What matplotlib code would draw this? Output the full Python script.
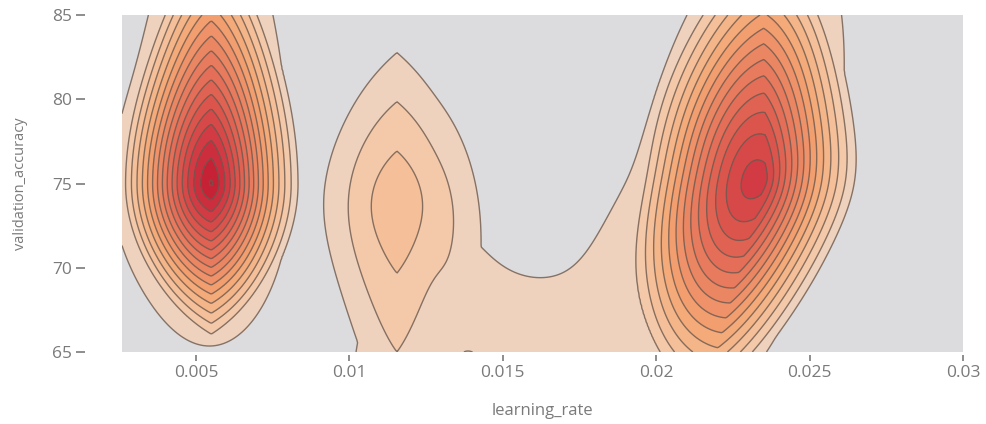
"""2D density contour of validation accuracy against learning rate."""

import numpy as np
import matplotlib
matplotlib.use("Agg")
import matplotlib.pyplot as plt
from matplotlib.colors import LinearSegmentedColormap

# pointed cores of the three clusters (height in contour steps, reach on each side)
core_lr = [0.0055, 0.01155, 0.0235]
core_acc = [75.0, 73.8, 75.2]
core_height = [10.0, 3.05, 8.5]
core_left = [0.0029, 0.0029, 0.0040]
core_right = [0.0029, 0.0029, 0.0032]
core_up = [15.0, 11.5, 15.0]
core_down = [9.6, 11.0, 14.0]
core_lean = [0.0, 0.0, 0.00015]

# rounded mass round the cores, plus the low-accuracy bridge
blob_lr = [0.0055, 0.0042, 0.01155, 0.01155, 0.0226, 0.0210, 0.0161]
blob_acc = [75.0, 75.0, 73.8, 60.0, 75.0, 67.0, 50.0]
blob_left = [0.0013, 0.0015, 0.0017, 0.0016, 0.0017, 0.0015, 0.0028]
blob_right = [0.0013, 0.0015, 0.0017, 0.0016, 0.0016, 0.0015, 0.0028]
blob_up = [9.0, 4.0, 6.5, 6.0, 8.0, 4.0, 12.0]
blob_down = [5.0, 4.0, 10.0, 6.0, 6.0, 4.0, 12.0]
blob_weight = [6.0, 1.7, 0.85, 1.15, 7.0, 1.0, 3.55]
blob_flatness = [2, 2, 2, 2, 2, 2, 8]
blob_lean = [0.0, 0.0, 0.0, 0.0, 0.0001, 0.0, 0.0]

x_ticks = [0.005, 0.01, 0.015, 0.02, 0.025, 0.03]
x_tick_labels = ["0.005", "0.01", "0.015", "0.02", "0.025", "0.03"]
y_ticks = [65, 70, 75, 80, 85]

X_RANGE = (0.00259, 0.03)
Y_RANGE = (65, 85)


def density(xx, yy):
    z = np.zeros_like(xx)
    for cx, cy, h, sl, sr, su, sd, k in zip(core_lr, core_acc, core_height,
                                            core_left, core_right, core_up,
                                            core_down, core_lean):
        dy = yy - cy
        dx = xx - cx - k * dy * 0.5 * (1 - np.tanh(dy / 3))
        u = np.where(dx < 0, dx / sl, dx / sr)
        v = np.where(dy > 0, dy / su, dy / sd)
        r = (np.abs(u) + np.sqrt(u ** 2 + 4 * v ** 2)) / 2
        z += h * np.clip(1 - r, 0, None)
    for cx, cy, sl, sr, su, sd, w, p, k in zip(blob_lr, blob_acc, blob_left,
                                               blob_right, blob_up, blob_down,
                                               blob_weight, blob_flatness,
                                               blob_lean):
        dy = yy - cy
        dx = xx - cx - k * dy
        u = np.where(dx < 0, dx / sl, dx / sr)
        v = np.where(dy > 0, dy / su, dy / sd)
        z += w * np.exp(-0.5 * (np.abs(u) ** p + v ** 2))
    return z


def main():
    plt.rcParams["font.family"] = ["Open Sans", "DejaVu Sans"]
    fig = plt.figure(figsize=(9.86, 4.24), dpi=100)
    ax = fig.add_axes([122 / 986, 1 - 352 / 424, (963 - 122) / 986, (352 - 15) / 424])
    ax.set_facecolor("#dcdcde")

    gx = np.linspace(X_RANGE[0], X_RANGE[1], 600)
    gy = np.linspace(Y_RANGE[0], Y_RANGE[1], 400)
    xx, yy = np.meshgrid(gx, gy)
    zz = density(xx, yy)

    zmax = zz.max()
    levels = np.arange(1, np.floor(zmax) + 1)
    cmap = LinearSegmentedColormap.from_list(
        "peach_red",
        [(0.0, "#ebd6c8"), (0.12, "#f5c6a2"), (0.3, "#f4a774"), (0.5, "#ea8060"),
         (0.7, "#de5a4e"), (0.85, "#d23a44"), (1.0, "#c41b32")],
    )
    ax.contourf(xx, yy, zz, levels=list(levels) + [zmax + 1], cmap=cmap,
                vmin=1, vmax=17)
    ax.contour(xx, yy, zz, levels=levels, colors="#6b5a50", linewidths=1.0,
               alpha=0.8)

    ax.set_xlim(*X_RANGE)
    ax.set_ylim(*Y_RANGE)
    ax.set_xticks(x_ticks)
    ax.set_xticklabels(x_tick_labels)
    ax.set_yticks(y_ticks)

    for spine in ax.spines.values():
        spine.set_visible(False)
    ax.spines["left"].set_position(("outward", 26.5))
    ax.spines["bottom"].set_position(("outward", 2.5))

    grey = "#7a7a7a"
    ax.tick_params(axis="y", length=6.5, width=1.2, pad=3, colors=grey,
                   labelsize=12.5)
    ax.tick_params(axis="x", length=4, width=1.2, pad=3, colors=grey,
                   labelsize=12.5)
    ax.set_xlabel("learning_rate", fontsize=12, color=grey, labelpad=16)
    ax.set_ylabel("validation_accuracy", fontsize=10.5, color=grey, labelpad=17)

    fig.savefig("out.png", dpi=100)


if __name__ == "__main__":
    main()
